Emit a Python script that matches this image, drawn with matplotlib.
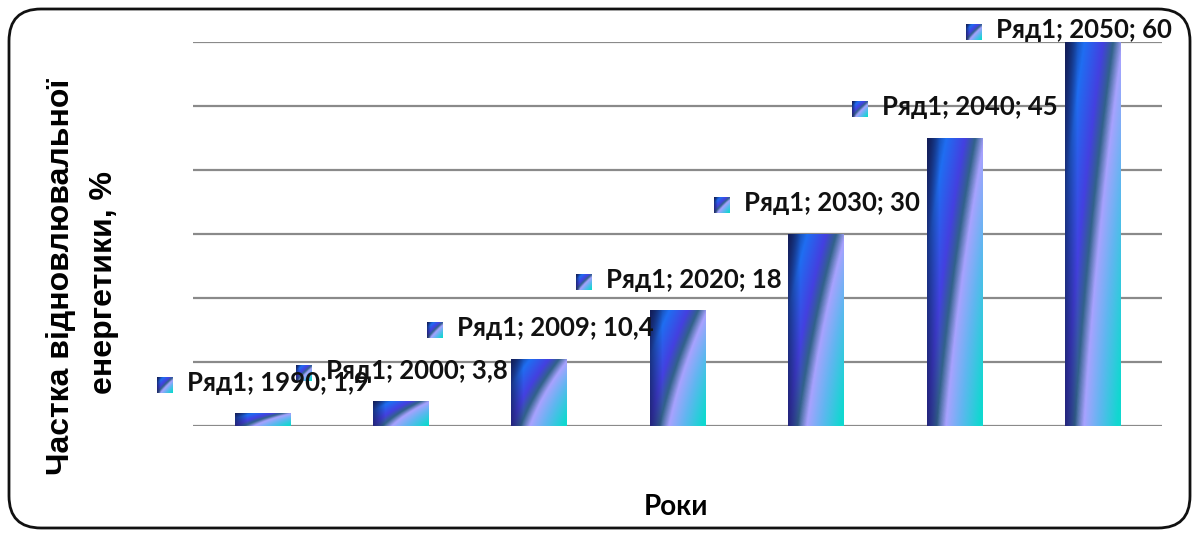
import numpy as np
import matplotlib
matplotlib.use('Agg')
import matplotlib.pyplot as plt
from matplotlib.colors import LinearSegmentedColormap
from matplotlib.patches import FancyBboxPatch
from matplotlib.transforms import IdentityTransform

plt.rcParams['font.family'] = ['Lato', 'DejaVu Sans']

years = ['1990', '2000', '2009', '2020', '2030', '2040', '2050']
share = [1.9, 3.8, 10.4, 18, 30, 45, 60]
series_name = 'Ряд1'

W, H = 1196, 533
fig = plt.figure(figsize=(W / 100, H / 100), dpi=100)
ax = fig.add_axes([193 / W, 107 / H, (1162 - 193) / W, (426 - 42) / H])
ax.set_xlim(-0.5, len(years) - 0.5)
ax.set_ylim(0, 60)
ax.axis('off')

# gridlines every 10 %
for g in range(0, 61, 10):
    ax.axhline(g, color='#8a8a8a', lw=1.6, zorder=1)

# curved diagonal gradient used for the bar fill
cmap = LinearSegmentedColormap.from_list('fill', [
    (0.00, '#0c2560'),
    (0.20, '#1f6ef2'),
    (0.40, '#4440e0'),
    (0.51, '#31628a'),
    (0.61, '#a8a2ff'),
    (0.77, '#60b6f0'),
    (0.97, '#10d8d0'),
    (1.00, '#10d8d0'),
])


def fill_image(nx=60, ny=200, a=0.45, b=0.25):
    xx, yy = np.meshgrid(np.linspace(0, 1, nx), np.linspace(1, 0, ny))
    off = a * yy + b * yy ** 2
    s = (xx - off + a + b) / (1 + a + b)
    rgb = cmap(np.clip(s, 0, 1))[..., :3]
    dark = np.clip(xx / 0.22, 0, 1)[..., None]
    navy = np.array([0.09, 0.10, 0.33])
    rgb = rgb * (0.3 + 0.7 * dark) + navy * 0.7 * (1 - dark)
    return np.clip(rgb, 0, 1)


img = fill_image()
bw = 0.4
for i, v in enumerate(share):
    ax.imshow(img, extent=(i - bw / 2, i + bw / 2, 0, v), aspect='auto',
              interpolation='bilinear', zorder=2)

# value labels above the bars
px_per_y = (426 - 42) / 60
labels = []
for i, v in enumerate(share):
    txt = f"{series_name}; {years[i]}; {str(v).replace('.', ',')}"
    ly = min(v + 31 / px_per_y, 60 + 12 / px_per_y)
    t = ax.annotate(txt, (i, ly), xytext=(16, 0), textcoords='offset pixels',
                    ha='center', va='center', fontsize=18.5, fontweight='bold',
                    color='#111111', zorder=5, annotation_clip=False)
    labels.append(t)

# keep labels inside the frame
fig.canvas.draw()
for t in labels:
    bb = t.get_window_extent()
    if bb.x1 > 1172:
        dx, dy = t.get_position()
        t.set_position((dx - (bb.x1 - 1172), dy))

fig.canvas.draw()
icon = fill_image(20, 20, a=0.8, b=0.2)
inv = ax.transData.inverted()
for t in labels:
    bb = t.get_window_extent()
    cy = (bb.y0 + bb.y1) / 2 - 2
    x0, y0 = inv.transform((bb.x0 - 30, cy - 8))
    x1, y1 = inv.transform((bb.x0 - 14, cy + 8))
    ax.imshow(icon, extent=(x0, x1, y0, y1), aspect='auto', zorder=4,
              clip_on=False)
ax.set_xlim(-0.5, len(years) - 0.5)
ax.set_ylim(0, 60)

ylab = dict(rotation=90, ha='center', va='center', fontsize=23,
            fontweight='bold', family='Liberation Sans')
fig.text(61 / W, 1 - 277 / H, 'Частка відновлювальної', **ylab)
fig.text(104 / W, 1 - 282 / H, 'енергетики, %', **ylab)
fig.text(676 / W, 1 - 507 / H, 'Роки', ha='center', va='center',
         fontsize=20, fontweight='bold')

frame = FancyBboxPatch((9, 5), 1181, 519, boxstyle='round,pad=0,rounding_size=32',
                       transform=IdentityTransform(), fill=False,
                       edgecolor='#111111', lw=2)
fig.patches.append(frame)

fig.savefig('out.png', dpi=100)
